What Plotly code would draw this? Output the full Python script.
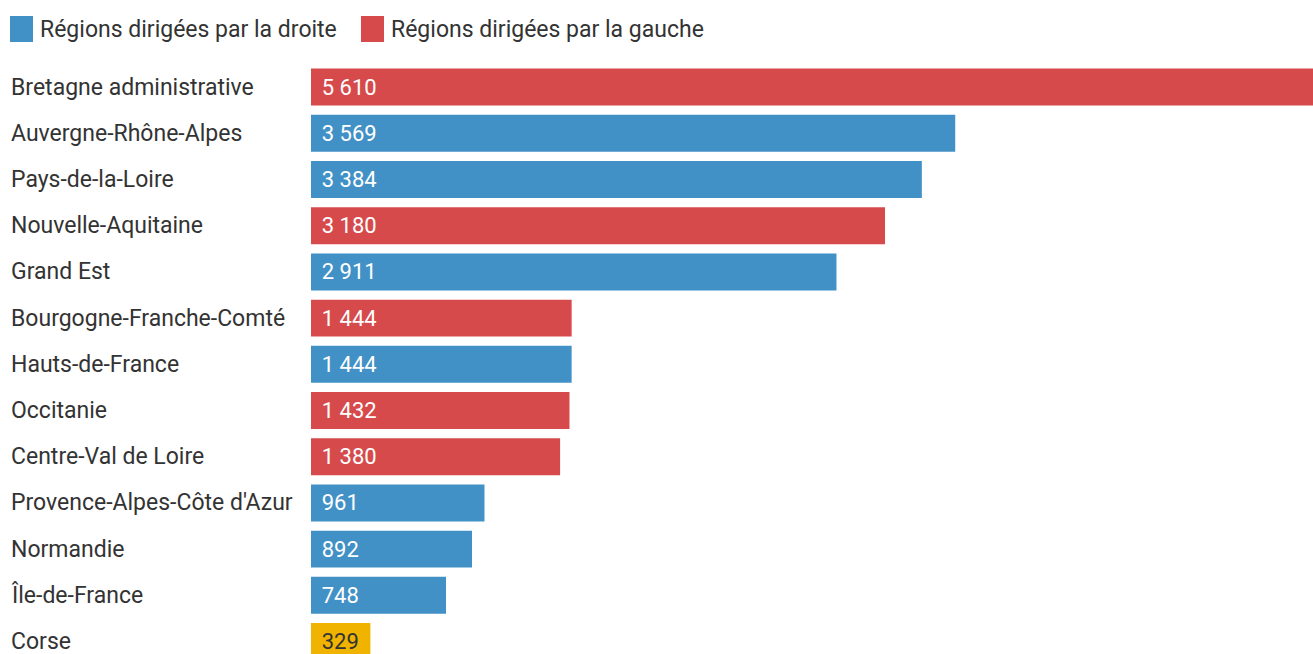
import plotly.graph_objects as go

regions = ["Bretagne administrative", "Auvergne-Rhône-Alpes", "Pays-de-la-Loire",
           "Nouvelle-Aquitaine", "Grand Est", "Bourgogne-Franche-Comté",
           "Hauts-de-France", "Occitanie", "Centre-Val de Loire",
           "Provence-Alpes-Côte d'Azur", "Normandie", "Île-de-France", "Corse"]
values = [5610, 3569, 3384, 3180, 2911, 1444, 1444, 1432, 1380, 961, 892, 748, 329]
groups = ["gauche", "droite", "droite", "gauche", "droite", "gauche",
          "droite", "gauche", "gauche", "droite", "droite", "droite", "autre"]

legend_labels = {"droite": "Régions dirigées par la droite",
                 "gauche": "Régions dirigées par la gauche"}
colors = {"droite": "#4191c6", "gauche": "#d64a4b", "autre": "#f0b400"}
text_colors = {"droite": "white", "gauche": "white", "autre": "#333333"}

FONT = "Roboto"
LABEL_SIZE = 23
NUM_SIZE = 22


def fmt(v):
    return "\u00a0\u200a" + f"{v:,}".replace(",", "\u00a0")


fig = go.Figure()
for g in ["droite", "gauche", "autre"]:
    ys = [r for r, gg in zip(regions, groups) if gg == g]
    xs = [v for v, gg in zip(values, groups) if gg == g]
    fig.add_trace(go.Bar(
        y=ys, x=xs, orientation="h",
        marker=dict(color=colors[g], line=dict(width=0)),
        text=[fmt(v) for v in xs], textposition="inside",
        insidetextanchor="start", constraintext="none",
        textfont=dict(family=FONT, size=NUM_SIZE, color=text_colors[g]),
        name=legend_labels.get(g, "Corse"), showlegend=False,
        hoverinfo="skip", width=0.8,
    ))

annotations = []
for r in regions:
    annotations.append(dict(
        xref="paper", yref="y", x=0, y=r, xshift=-302, xanchor="left",
        text=r, showarrow=False, font=dict(family=FONT, size=LABEL_SIZE, color="#333333"),
    ))

shapes = []
L, T = 311, 64
leg_items = [("droite", 10, 38), ("gauche", 361, 389)]
for g, sx, tx in leg_items:
    shapes.append(dict(type="rect", xref="paper", yref="paper",
                       xsizemode="pixel", ysizemode="pixel",
                       xanchor=0, yanchor=1,
                       x0=sx - L, x1=sx - L + 23, y0=T - 16, y1=T - 42,
                       line=dict(width=0), fillcolor=colors[g]))
    annotations.append(dict(xref="paper", yref="paper", x=0, y=1,
                            xshift=tx - L, yshift=T - 29, xanchor="left", yanchor="middle",
                            text=legend_labels[g], showarrow=False,
                            font=dict(family=FONT, size=LABEL_SIZE, color="#333333")))

fig.update_layout(
    width=1313, height=654,
    margin=dict(l=311, r=0, t=64, b=0),
    paper_bgcolor="white", plot_bgcolor="white",
    barmode="overlay",
    xaxis=dict(range=[0, 5551], visible=False, fixedrange=True),
    yaxis=dict(categoryorder="array", categoryarray=regions,
               range=[12.27, -0.5], autorange=False,
               showticklabels=False, showgrid=False, zeroline=False, fixedrange=True),
    annotations=annotations, shapes=shapes,
    font=dict(family=FONT),
)

fig.write_html("out.html", config={"displayModeBar": False},
               post_script="document.body.style.margin='0';document.body.style.overflow='hidden';")
